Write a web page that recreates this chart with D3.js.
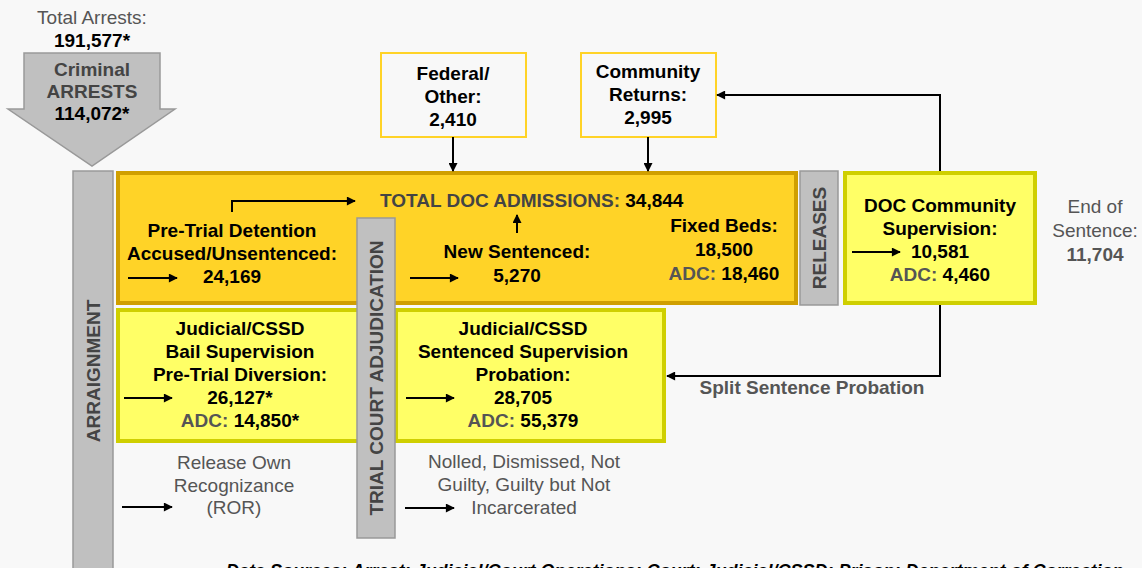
<!DOCTYPE html>
<html>
<head>
<meta charset="utf-8">
<script src="https://cdn.jsdelivr.net/npm/d3@7"></script>
<style>
  body { margin: 0; background: #f8f8f8; }
  svg { display: block; font-family: "Liberation Sans", Arial, sans-serif; }
</style>
</head>
<body>
<script>
// flow figures
var totalArrests = '191,577*';
var criminalArrests = ['Criminal', 'ARRESTS', '114,072*'];
var stageLabels = ['ARRAIGNMENT', 'TRIAL COURT ADJUDICATION', 'RELEASES'];
var inflowLabels = [['Federal/', 'Other:'], ['Community', 'Returns:']];
var inflowValues = ['2,410', '2,995'];
var admissionsLabel = 'TOTAL DOC ADMISSIONS: ';
var admissionsValue = '34,844';
var boxTitles = [
  ['Pre-Trial Detention', 'Accused/Unsentenced:'],
  ['New Sentenced:'],
  ['Fixed Beds:'],
  ['DOC Community', 'Supervision:'],
  ['Judicial/CSSD', 'Bail Supervision', 'Pre-Trial Diversion:'],
  ['Judicial/CSSD', 'Sentenced Supervision', 'Probation:']
];
var boxValues = ['24,169', '5,270', '18,500', '10,581', '26,127*', '28,705'];
var adcValues = [null, null, '18,460', '4,460', '14,850*', '55,379'];
var exitLabels = [['Release Own', 'Recognizance', '(ROR)'], ['Nolled, Dismissed, Not', 'Guilty, Guilty but Not', 'Incarcerated']];
var endOfSentence = ['End of', 'Sentence:', '11,704'];
var splitLabel = 'Split Sentence Probation';
var sourceNote = 'Data Sources: Arrest: Judicial/Court Operations; Court: Judicial/CSSD; Prison: Department of Correction';

var width = 1142, height = 568;
var grey = '#555', dark = '#444';

var svg = d3.select('body').append('svg')
  .attr('width', width)
  .attr('height', height);

svg.append('rect').attr('width', width).attr('height', height).attr('fill', '#f8f8f8');

svg.append('defs').append('marker')
  .attr('id', 'head')
  .attr('viewBox', '0 0 10 10')
  .attr('refX', 9).attr('refY', 5)
  .attr('markerWidth', 10).attr('markerHeight', 9)
  .attr('markerUnits', 'userSpaceOnUse')
  .attr('orient', 'auto')
  .append('path').attr('d', 'M0,0L10,5L0,10Z').attr('fill', '#000');

// draw lines of text, each line is a list of [text, colour, bold]
var textBlock = function(x, y, lines, opts) {
  opts = opts || {};
  var t = svg.append('text')
    .attr('x', x).attr('y', y)
    .attr('text-anchor', opts.anchor || 'middle')
    .attr('font-size', opts.size || 19);
  lines.forEach(function(line, i) {
    line.forEach(function(seg, j) {
      var s = t.append('tspan')
        .text(seg[0])
        .attr('fill', seg[1] || '#000')
        .attr('font-weight', seg[2] === false ? 'normal' : 'bold');
      if (j === 0) s.attr('x', x).attr('dy', i === 0 ? 0 : (opts.lh || 23));
    });
  });
  return t;
};

var arrow = function(points) {
  svg.append('path')
    .attr('d', d3.line()(points))
    .attr('fill', 'none')
    .attr('stroke', '#000')
    .attr('stroke-width', 2)
    .attr('marker-end', 'url(#head)');
};

var box = function(x, y, w, h, fill, stroke, sw) {
  svg.append('rect')
    .attr('x', x).attr('y', y).attr('width', w).attr('height', h)
    .attr('fill', fill).attr('stroke', stroke).attr('stroke-width', sw);
};

var bar = function(x, y, w, h, label, cy) {
  box(x, y, w, h, '#c0c0c0', '#999', 1.5);
  svg.append('text')
    .attr('transform', 'translate(' + (x + w / 2 + 7) + ',' + cy + ') rotate(-90)')
    .attr('text-anchor', 'middle')
    .attr('font-size', 19).attr('font-weight', 'bold')
    .attr('fill', dark)
    .text(label);
};

// arrests
textBlock(92, 24, [[[ 'Total Arrests:', grey, false ]], [[ totalArrests ]]], { lh: 23 });
svg.append('polygon')
  .attr('points', '24,53 160,53 160,109 175,109 92,166 8,109 24,109')
  .attr('fill', '#c0c0c0').attr('stroke', '#999').attr('stroke-width', 1.5);
textBlock(92, 76, [[[criminalArrests[0], dark]], [[criminalArrests[1], dark]], [[criminalArrests[2]]]], { lh: 22 });

// main boxes
box(118, 173, 678, 130, '#ffd327', '#d09f00', 4);
box(118, 310, 280, 131, '#ffff66', '#cfcf00', 4);
box(396, 310, 268, 131, '#ffff66', '#cfcf00', 4);
box(845, 173, 190, 130, '#ffff66', '#cfcf00', 4);

// inflow boxes
box(381, 53, 145, 84, 'none', '#ffd327', 2);
box(581, 53, 135, 84, 'none', '#ffd327', 2);
textBlock(453, 80, [[[inflowLabels[0][0]]], [[inflowLabels[0][1]]], [[inflowValues[0]]]]);
textBlock(648, 78, [[[inflowLabels[1][0]]], [[inflowLabels[1][1]]], [[inflowValues[1]]]]);
arrow([[453, 137], [453, 171]]);
arrow([[648, 137], [648, 171]]);

// stage bars
bar(73, 171, 40, 420, stageLabels[0], 371);
bar(357, 218, 38, 320, stageLabels[1], 378);
bar(800, 171, 38, 134, stageLabels[2], 238);

// DOC admissions
textBlock(380, 207, [[[admissionsLabel, dark], [admissionsValue]]], { anchor: 'start' });
arrow([[232, 212], [232, 201], [355, 201]]);
arrow([[517, 233], [517, 215]]);

textBlock(232, 237, [[[boxTitles[0][0]]], [[boxTitles[0][1]]], [[boxValues[0]]]]);
arrow([[128, 278], [177, 278]]);
textBlock(517, 258, [[[boxTitles[1][0]]], [[boxValues[1]]]], { lh: 24 });
arrow([[410, 278], [458, 278]]);
textBlock(724, 232, [[[boxTitles[2][0]]], [[boxValues[2]]], [[ 'ADC: ', grey ], [adcValues[2]]]], { lh: 24 });

// DOC community supervision
textBlock(940, 212, [[[boxTitles[3][0]]], [[boxTitles[3][1]]], [[boxValues[3]]], [[ 'ADC: ', grey ], [adcValues[3]]]], { lh: 23 });
arrow([[852, 252], [900, 252]]);
textBlock(1095, 213, [[[endOfSentence[0], grey, false]], [[endOfSentence[1], grey, false]], [[endOfSentence[2], grey]]], { lh: 24 });
arrow([[940, 171], [940, 95], [717, 95]]);
arrow([[940, 305], [940, 376], [667, 376]]);
textBlock(812, 394, [[[splitLabel, grey]]]);

// judicial boxes
textBlock(240, 335, [[[boxTitles[4][0]]], [[boxTitles[4][1]]], [[boxTitles[4][2]]], [[boxValues[4]]], [[ 'ADC: ', grey ], [adcValues[4]]]]);
arrow([[124, 398], [172, 398]]);
textBlock(523, 335, [[[boxTitles[5][0]]], [[boxTitles[5][1]]], [[boxTitles[5][2]]], [[boxValues[5]]], [[ 'ADC: ', grey ], [adcValues[5]]]]);
arrow([[406, 398], [454, 398]]);

// exits
textBlock(234, 469, exitLabels[0].map(function(d) { return [[d, grey, false]]; }), { lh: 22.5 });
arrow([[122, 507], [172, 507]]);
textBlock(524, 468, exitLabels[1].map(function(d) { return [[d, grey, false]]; }), { lh: 23 });
arrow([[405, 508], [454, 508]]);

// source note (cut by the bottom edge, as in the original)
svg.append('text')
  .attr('x', 226).attr('y', 577)
  .attr('font-size', 18)
  .attr('font-style', 'italic')
  .attr('font-weight', 'bold')
  .attr('fill', '#000')
  .text(sourceNote);
</script>
</body>
</html>
